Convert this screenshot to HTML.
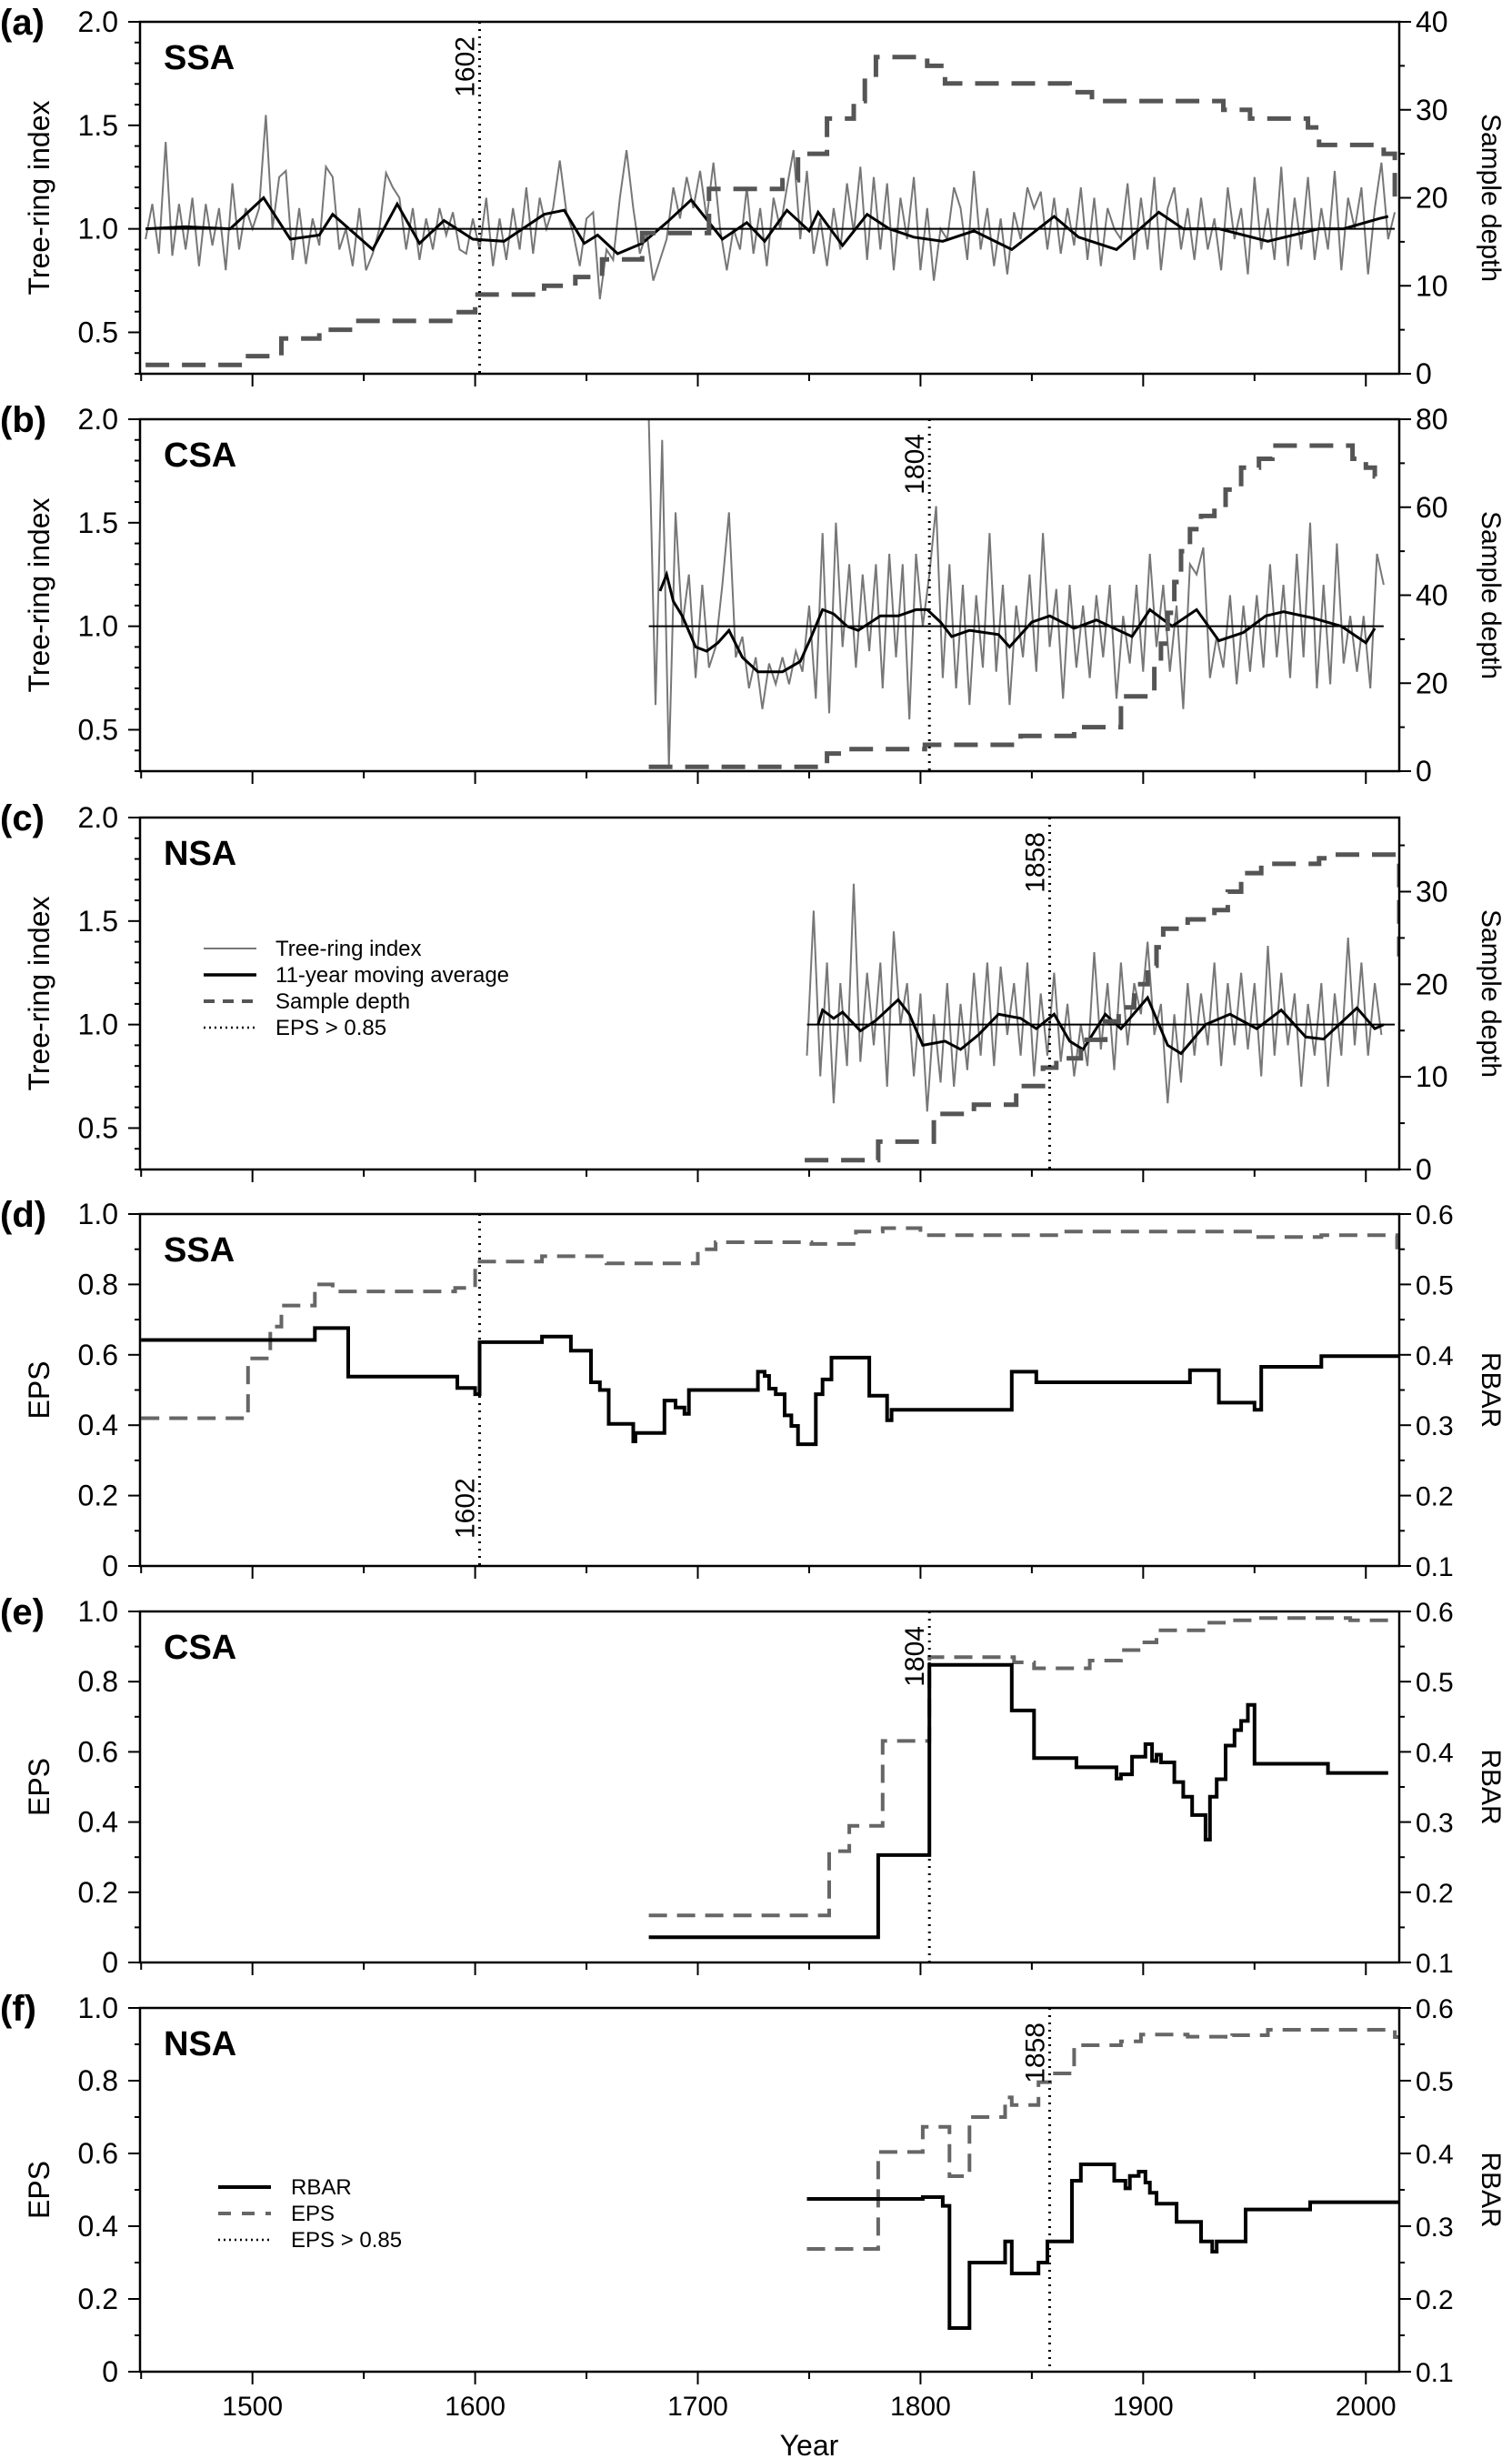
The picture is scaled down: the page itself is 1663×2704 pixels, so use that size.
<!DOCTYPE html>
<html><head><meta charset="utf-8"><style>
html,body{margin:0;padding:0;background:#fff;}
svg{display:block;font-family:"Liberation Sans",Arial,sans-serif;}
.n{font-family:"Liberation Sans Narrow","Liberation Sans",sans-serif;}
</style></head><body>
<svg id="chart" width="1663" height="2704" viewBox="0 0 1663 2704" xmlns="http://www.w3.org/2000/svg"></svg>
<script>
// ---------- DATA ----------
const xTickLabels=[1500,1600,1700,1800,1900,2000];
// Panel a (SSA)
const aRingStart=1452, aRingStep=3;
const aRing=[0.95,1.12,0.88,1.42,0.87,1.12,0.9,1.15,0.82,1.12,0.92,1.1,0.8,1.22,0.9,1.1,1.0,1.1,1.55,1.0,1.25,1.28,0.85,1.1,0.83,1.05,0.92,1.3,1.25,0.9,1.0,0.82,1.1,0.8,0.88,1.0,1.27,1.2,1.15,0.9,1.1,0.85,1.05,0.9,1.1,0.97,1.08,0.9,0.88,1.05,0.9,1.15,0.82,1.05,0.85,1.1,0.9,1.2,0.88,1.15,1.0,1.1,1.33,1.08,0.98,0.82,1.05,1.08,0.66,0.9,0.85,1.15,1.38,1.1,0.88,0.98,0.75,0.85,0.95,1.2,1.05,1.25,1.1,1.28,1.05,1.32,1.0,0.8,1.0,0.9,1.2,0.88,1.1,0.82,1.15,1.0,1.2,1.38,0.95,1.28,0.88,1.05,0.82,1.1,0.9,1.22,0.98,1.3,0.85,1.25,0.9,1.22,0.8,1.15,0.95,1.25,0.8,1.1,0.75,1.0,0.95,1.2,1.1,0.85,1.28,0.9,1.1,0.82,1.05,0.78,1.08,0.95,1.2,1.1,1.18,0.9,1.15,0.88,1.1,0.92,1.2,0.85,1.15,0.82,1.1,1.0,0.95,1.22,0.85,1.15,0.9,1.25,0.8,1.1,1.2,0.9,1.1,0.85,1.15,0.9,1.05,0.8,1.2,0.95,1.1,0.78,1.25,0.9,1.1,0.85,1.3,0.82,1.15,0.9,1.25,0.85,1.1,0.9,1.28,0.8,1.15,1.0,1.2,0.78,1.1,1.32,0.95,1.08];
const aMAYears=[1452,1470,1490,1498,1505,1517,1530,1536,1554,1565,1575,1586,1599,1613,1631,1640,1649,1655,1664,1675,1686,1697,1711,1722,1730,1740,1750,1754,1765,1776,1786,1797,1810,1824,1841,1860,1871,1888,1907,1918,1934,1956,1979,1990,2006,2010];
const aMA=[1.0,1.01,1.0,1.08,1.15,0.95,0.97,1.07,0.9,1.12,0.93,1.04,0.95,0.94,1.07,1.09,0.93,0.97,0.88,0.93,1.03,1.14,0.95,1.03,0.94,1.09,0.99,1.08,0.92,1.07,1.0,0.96,0.94,0.99,0.9,1.06,0.96,0.9,1.08,1.0,1.0,0.94,1.0,1.0,1.05,1.06];
const aDepthYears=[1452,1498,1513,1530,1545,1590,1600,1631,1645,1657,1675,1705,1738,1745,1758,1770,1775,1780,1803,1811,1867,1877,1936,1948,1974,1979,2008,2013,2015];
const aDepth=[1,2,4,5,6,7,9,10,11,13,16,21,22,25,29,31,34,36,35,33,32,31,30,29,28,26,25,20,20];
// Panel b (CSA)
const bRingStart=1678, bRingStep=3;
const bRing=[2.0,0.62,1.9,0.32,1.55,1.0,1.25,0.75,1.2,0.8,0.9,1.2,1.55,0.85,0.95,0.7,0.85,0.6,0.82,0.72,0.85,0.72,0.88,0.78,1.1,0.65,1.45,0.58,1.5,0.9,1.3,0.8,1.25,0.88,1.3,0.7,1.35,0.85,1.3,0.55,1.35,1.0,1.25,1.58,0.75,1.3,0.7,1.2,0.62,1.15,0.8,1.45,0.78,1.2,0.62,1.1,0.85,1.25,0.78,1.45,0.9,1.18,0.65,1.2,0.8,1.1,0.75,1.15,0.85,1.2,0.65,1.05,0.82,1.2,0.78,1.35,0.9,1.2,0.78,1.1,0.6,1.3,1.25,1.38,0.75,0.95,0.8,1.15,0.72,1.1,0.78,1.15,0.8,1.3,0.85,1.2,0.75,1.35,0.85,1.5,0.7,1.2,0.72,1.4,0.82,1.05,0.78,1.05,0.7,1.35,1.2];
const bMAYears=[1683,1686,1689,1693,1699,1704,1709,1714,1720,1727,1738,1746,1751,1756,1761,1767,1772,1782,1790,1798,1803,1809,1814,1822,1835,1840,1850,1858,1869,1879,1887,1895,1903,1913,1924,1934,1945,1955,1963,1976,1989,2000,2004];
const bMA=[1.17,1.25,1.12,1.05,0.9,0.88,0.92,0.98,0.85,0.78,0.78,0.83,0.95,1.08,1.06,1.0,0.98,1.05,1.05,1.08,1.08,1.02,0.95,0.98,0.96,0.9,1.02,1.05,0.99,1.03,0.99,0.95,1.08,1.0,1.08,0.93,0.97,1.05,1.07,1.04,1.0,0.92,0.99];
const bDepthYears=[1678,1758,1768,1802,1845,1869,1890,1905,1908,1911,1914,1917,1921,1926,1932,1937,1944,1952,1958,1994,2000,2004,2007];
const bDepth=[1,4,5,6,8,10,17,24,29,36,43,50,55,58,60,64,69,71,74,71,69,67,67];
// Panel c (NSA)
const cRingStart=1749, cRingStep=3;
const cRing=[0.85,1.55,0.75,1.3,0.62,1.2,0.8,1.68,0.82,1.25,0.9,1.3,0.7,1.45,1.0,1.2,0.75,1.15,0.58,1.05,0.72,1.2,0.7,1.1,0.78,1.25,0.85,1.3,0.8,1.28,0.95,1.2,0.85,1.3,0.75,1.15,0.85,1.25,0.82,1.1,0.75,1.0,0.8,1.35,0.88,1.2,0.78,1.3,0.9,1.2,1.05,1.4,0.95,1.1,0.62,1.05,0.72,1.2,0.85,1.15,0.9,1.3,0.8,1.2,0.9,1.25,0.88,1.2,0.75,1.38,0.85,1.25,0.9,1.15,0.7,1.1,0.85,1.2,0.7,1.15,0.85,1.42,0.9,1.3,0.85,1.2,0.95];
const cMAYears=[1754,1756,1761,1765,1773,1780,1790,1795,1801,1811,1818,1826,1835,1845,1852,1860,1867,1873,1883,1890,1902,1911,1917,1928,1939,1951,1962,1973,1981,1996,2004,2008];
const cMA=[1.0,1.07,1.03,1.06,0.97,1.02,1.12,1.05,0.9,0.92,0.88,0.95,1.05,1.03,0.98,1.05,0.92,0.88,1.05,0.98,1.13,0.9,0.86,1.0,1.05,0.98,1.07,0.94,0.93,1.08,0.98,1.0];
const cDepthYears=[1748,1781,1806,1824,1843,1855,1861,1872,1883,1889,1896,1902,1906,1909,1920,1932,1938,1944,1953,1979,1984,2013,2015];
const cDepth=[1,3,6,7,9,11,12,14,16,17.5,20,22,24,26,27,28,30,32,33,33.6,34,34,23];
// Panel d (SSA) EPS / RBAR
const dEpsYears=[1450,1498,1508,1513,1528,1536,1591,1600,1602,1630,1659,1700,1708,1751,1771,1783,1800,1864,1948,1980,2014];
const dEps=[0.42,0.59,0.68,0.74,0.8,0.78,0.79,0.85,0.865,0.88,0.86,0.9,0.92,0.915,0.95,0.96,0.94,0.95,0.935,0.94,0.9];
const dRbarYears=[1450,1528,1543,1592,1600,1602,1630,1643,1652,1656,1660,1671,1672,1685,1690,1694,1696,1727,1730,1732,1735,1739,1742,1745,1753,1756,1760,1777,1785,1787,1841,1852,1921,1934,1950,1953,1980,2015];
const dRbar=[0.421,0.438,0.369,0.353,0.344,0.418,0.426,0.406,0.361,0.35,0.302,0.277,0.289,0.335,0.325,0.316,0.35,0.376,0.37,0.352,0.344,0.314,0.299,0.273,0.344,0.365,0.396,0.342,0.307,0.322,0.376,0.361,0.378,0.332,0.322,0.383,0.398,0.398];
// Panel e (CSA)
const eEpsYears=[1678,1759,1768,1783,1804,1842,1851,1876,1890,1899,1906,1927,1940,1949,1993,2010];
const eEps=[0.134,0.317,0.389,0.631,0.87,0.855,0.838,0.86,0.89,0.912,0.946,0.968,0.975,0.981,0.975,0.975];
const eRbarYears=[1678,1781,1804,1841,1851,1870,1888,1890,1895,1901,1904,1906,1908,1914,1918,1922,1928,1930,1933,1937,1941,1944,1947,1950,1983,2010];
const eRbar=[0.136,0.253,0.524,0.459,0.391,0.378,0.362,0.368,0.393,0.411,0.387,0.396,0.385,0.357,0.336,0.31,0.275,0.336,0.361,0.409,0.431,0.444,0.467,0.383,0.37,0.37];
// Panel f (NSA)
const fEpsYears=[1749,1781,1801,1813,1822,1838,1841,1853,1859,1869,1890,1899,1920,1937,1940,1956,2013,2015];
const fEps=[0.3375,0.604,0.673,0.5375,0.70,0.754,0.733,0.796,0.82,0.8975,0.908,0.927,0.921,0.915,0.925,0.94,0.92,0.92];
const fRbarYears=[1749,1801,1810,1813,1822,1838,1841,1853,1857,1868,1872,1887,1892,1894,1898,1901,1903,1906,1915,1926,1931,1933,1946,1975,2015];
const fRbar=[0.3375,0.34,0.328,0.16,0.25,0.279,0.235,0.25,0.279,0.3625,0.385,0.3625,0.352,0.369,0.375,0.36,0.346,0.331,0.306,0.279,0.265,0.279,0.323,0.333,0.333];
const epsYears=[1602,1804,1858];

// ---------- LAYOUT ----------
const svg=document.getElementById('chart');
const NS='http://www.w3.org/2000/svg';
const X0=154,X1=1539,YA=1449.5,YB=2015;
function sx(y){return X0+(y-YA)/(YB-YA)*(X1-X0);}
function mk(tag,attrs,parent){const e=document.createElementNS(NS,tag);for(const k in attrs)e.setAttribute(k,attrs[k]);(parent||svg).appendChild(e);return e;}
function txt(s,attrs,parent){const e=mk('text',attrs,parent);e.textContent=s;return e;}

const panels=[
 {id:'a',top:24,bot:411,lmin:0.3,lmax:2.0,rmin:0,rmax:40,reg:'SSA',type:'ring'},
 {id:'b',top:461,bot:848,lmin:0.3,lmax:2.0,rmin:0,rmax:80,reg:'CSA',type:'ring'},
 {id:'c',top:899,bot:1286,lmin:0.3,lmax:2.0,rmin:0,rmax:38,reg:'NSA',type:'ring'},
 {id:'d',top:1335,bot:1722,lmin:0,lmax:1,rmin:0.1,rmax:0.6,reg:'SSA',type:'eps'},
 {id:'e',top:1772,bot:2158,lmin:0,lmax:1,rmin:0.1,rmax:0.6,reg:'CSA',type:'eps'},
 {id:'f',top:2208,bot:2608,lmin:0,lmax:1,rmin:0.1,rmax:0.6,reg:'NSA',type:'eps'}
];
function lyF(p){return v=>p.bot-(v-p.lmin)/(p.lmax-p.lmin)*(p.bot-p.top);}
function ryF(p){return v=>p.bot-(v-p.rmin)/(p.rmax-p.rmin)*(p.bot-p.top);}
function stepPath(ys,vs,yf,endYear){let d='';for(let i=0;i<ys.length;i++){const x=sx(ys[i]),y=yf(vs[i]);d+=(i?'L':'M')+x.toFixed(1)+','+y.toFixed(1);const nx=sx(i<ys.length-1?ys[i+1]:(endYear||ys[i]));d+='L'+nx.toFixed(1)+','+y.toFixed(1);}return d;}
function linePath(ys,vs,yf){return ys.map((y,i)=>(i?'L':'M')+sx(y).toFixed(1)+','+yf(vs[i]).toFixed(1)).join('');}

panels.forEach((p,pi)=>{
 const g=mk('g',{});
 
 
 const ly=lyF(p), ry=ryF(p);
 const narrow=p.type==='ring'?'n':'';
 const cp=mk('clipPath',{id:'clip'+p.id},g);
 mk('rect',{x:X0,y:p.top,width:X1-X0,height:p.bot-p.top},cp);
 for(let v=p.lmin;v<=p.lmax+1e-6;v+=0.1){
   const vv=Math.round(v*10)/10, y=ly(vv);
   const major=p.type==='ring'?(Math.abs(vv*2-Math.round(vv*2))<1e-6):(Math.abs(vv*5-Math.round(vv*5))<1e-6);
   mk('line',{x1:X0-(major?13:6),x2:X0,y1:y,y2:y,stroke:'#000','stroke-width':2},g);
   if(major){const t=txt(p.type==='ring'?vv.toFixed(1):(vv===0?'0':vv.toFixed(1)),{x:X0-24,y:y+11,'text-anchor':'end','font-size':32,class:narrow},g);
     }
 }
 if(p.type==='ring'){
   const maj=p.id==='b'?20:10, mn=maj/2;
   for(let v=0;v<=p.rmax+1e-6;v+=mn){const y=ry(v);const major=v%maj===0;
     mk('line',{x1:X1,x2:X1+(major?13:6),y1:y,y2:y,stroke:'#000','stroke-width':2},g);
     if(major){const t=txt(String(v),{x:X1+18,y:y+11,'font-size':32,class:'n'},g);}}
 } else {
   for(let v=0.1;v<=0.6+1e-6;v+=0.05){const vv=Math.round(v*100)/100,y=ry(vv);const major=Math.abs(vv*10-Math.round(vv*10))<1e-6;
     mk('line',{x1:X1,x2:X1+(major?13:6),y1:y,y2:y,stroke:'#000','stroke-width':2},g);
     if(major){const t=txt(vv.toFixed(1),{x:X1+18,y:y+11,'font-size':30},g);}}
 }
 for(let yr=1450;yr<=2000;yr+=50){const x=sx(yr);const major=yr%100===0;
   mk('line',{x1:x,x2:x,y1:p.bot,y2:p.bot+(major?14:8),stroke:'#000','stroke-width':2},g);}
 const lt=txt(p.type==='ring'?'Tree-ring index':'EPS',{x:0,y:0,'font-size':32,'text-anchor':'middle',class:narrow,transform:`translate(54,${(p.top+p.bot)/2}) rotate(-90)`},g);
 
 const rt=txt(p.type==='ring'?'Sample depth':'RBAR',{x:0,y:0,'font-size':30,'text-anchor':'middle',transform:`translate(1630,${(p.top+p.bot)/2}) rotate(90)`},g);
 
 const pl=txt('('+p.id+')',{x:0,y:p.top+14,'font-size':40,'font-weight':'bold'},g);
 
 const rg=txt(p.reg,{x:180,y:p.top+52,'font-size':38,'font-weight':'bold',class:narrow},g);
 

 const dg=mk('g',{'clip-path':'url(#clip'+p.id+')'},g);
 if(p.type==='ring'){
   const ring={a:[aRingStart,aRingStep,aRing],b:[bRingStart,bRingStep,bRing],c:[cRingStart,cRingStep,cRing]}[p.id];
   const ma={a:[aMAYears,aMA],b:[bMAYears,bMA],c:[cMAYears,cMA]}[p.id];
   const dep={a:[aDepthYears,aDepth],b:[bDepthYears,bDepth],c:[cDepthYears,cDepth]}[p.id];
   const ry_=ring[2].map((v,i)=>ring[0]+i*ring[1]);
   const s1=mk('path',{d:linePath(ry_,ring[2],ly),fill:'none',stroke:'#777','stroke-width':2},dg);
   
   const ref=mk('line',{x1:sx(ry_[0]),x2:sx(p.id==='b'?2008:2013),y1:ly(1),y2:ly(1),stroke:'#000','stroke-width':2},dg);
   
   const s2=mk('path',{d:linePath(ma[0],ma[1],ly),fill:'none',stroke:'#000','stroke-width':3},dg);
   
   const s3=mk('path',{d:stepPath(dep[0],dep[1],ry),fill:'none',stroke:'#555','stroke-width':5,'stroke-dasharray':'26,14'},dg);
   
 } else {
   const eps={d:[dEpsYears,dEps],e:[eEpsYears,eEps],f:[fEpsYears,fEps]}[p.id];
   const rb={d:[dRbarYears,dRbar],e:[eRbarYears,eRbar],f:[fRbarYears,fRbar]}[p.id];
   const s1=mk('path',{d:stepPath(eps[0],eps[1],ly),fill:'none',stroke:'#666','stroke-width':4,'stroke-dasharray':'20,11'},dg);
   
   const s2=mk('path',{d:stepPath(rb[0],rb[1],ry),fill:'none',stroke:'#000','stroke-width':4},dg);
   
 }
 const ey=epsYears[pi%3], ex=sx(ey);
 const vl=mk('line',{x1:ex,x2:ex,y1:p.top,y2:p.bot,stroke:'#000','stroke-width':3,'stroke-dasharray':'2,6'},g);
 
 const labY=(p.id==='d')?p.bot-30:p.top+16;
 const vt=txt(String(ey),{x:0,y:0,'font-size':30,'text-anchor':(p.id==='d')?'start':'end',transform:`translate(${ex-6},${labY}) rotate(-90)`},g);
 
 const fr=mk('rect',{x:X0,y:p.top,width:X1-X0,height:p.bot-p.top,fill:'none',stroke:'#000','stroke-width':2.5},g);
 
});

xTickLabels.forEach(yr=>{const t=txt(String(yr),{x:sx(yr),y:2656,'font-size':30,'text-anchor':'middle'});
 });
const xt=txt('Year',{x:sx(1750),y:2700,'font-size':32,'text-anchor':'middle'});


const lg1=mk('g',{});

[['Tree-ring index','#777',2,''],['11-year moving average','#000',3.5,''],['Sample depth','#555',4,'12,9'],['EPS > 0.85','#000',2.5,'2,4']].forEach((r,i)=>{
 const y=1043+i*29;
 const e=mk('g',{},lg1);
 
 mk('line',{x1:224,x2:282,y1:y,y2:y,stroke:r[1],'stroke-width':r[2],'stroke-dasharray':r[3]},e);
 txt(r[0],{x:303,y:y+8,'font-size':24,class:'n'},e);
});
const lg2=mk('g',{});

[['RBAR','#000',4,''],['EPS','#666',4,'14,12'],['EPS > 0.85','#000',2.5,'2,4']].forEach((r,i)=>{
 const y=2405+i*29;
 const e=mk('g',{},lg2);
 
 mk('line',{x1:240,x2:298,y1:y,y2:y,stroke:r[1],'stroke-width':r[2],'stroke-dasharray':r[3]},e);
 txt(r[0],{x:320,y:y+8,'font-size':24},e);
});
</script>
</body></html>
